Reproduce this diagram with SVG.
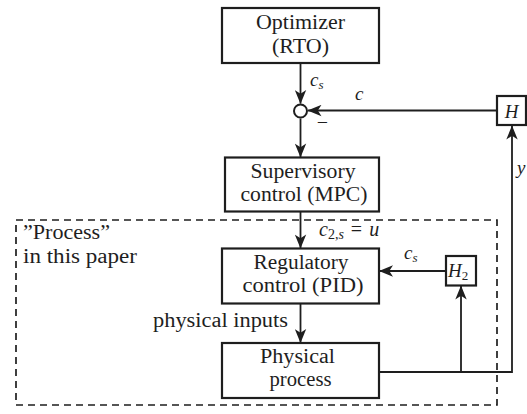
<svg xmlns="http://www.w3.org/2000/svg" width="527" height="414" viewBox="0 0 527 414">
<defs>
<style>
.box{fill:#fff;stroke:#1e1e1e;stroke-width:2.2}
text{font-family:"Liberation Serif","Times New Roman",Tinos,"Noto Serif","DejaVu Serif",FreeSerif,Times,serif;fill:#1e1e1e}
.t{font-size:20px;text-anchor:middle}
.tl{font-size:20px}
.m{font-size:19px;font-style:italic}
.sub{font-size:13px}
.ln{fill:none;stroke:#1e1e1e;stroke-width:1.8}
.arr{marker-end:url(#ah)}
.dash{fill:none;stroke:#1e1e1e;stroke-width:1.7;stroke-dasharray:7 5}
</style>
<marker id="ah" viewBox="0 0 15 12" refX="14" refY="6" markerWidth="15" markerHeight="12" markerUnits="userSpaceOnUse" orient="auto">
<path d="M14.5,6 L0.5,0.3 L4.2,6 L0.5,11.7 z" fill="#1e1e1e"/>
</marker>
</defs>
<rect class="dash" x="16" y="220" width="481" height="185"/>
<g id="connectors">
<line class="ln arr" x1="300.5" y1="63" x2="300.5" y2="103.5"/>
<line class="ln arr" x1="300.5" y1="118.5" x2="300.5" y2="157"/>
<line class="ln arr" x1="300.5" y1="212" x2="300.5" y2="248"/>
<line class="ln arr" x1="300.5" y1="303.5" x2="300.5" y2="342.5"/>
<line class="ln arr" x1="497" y1="110.5" x2="308" y2="110.5"/>
<polyline class="ln arr" points="379,372 512,372 512,126"/>
<line class="ln arr" x1="461" y1="372" x2="461" y2="286"/>
<line class="ln arr" x1="446" y1="271" x2="379.5" y2="271"/>
</g>
<g id="optimizer">
<rect class="box" x="222" y="8" width="157" height="55"/>
<text class="t" x="300.5" y="29" textLength="89" lengthAdjust="spacingAndGlyphs">Optimizer</text>
<text class="t" x="300.5" y="52.5" textLength="57" lengthAdjust="spacingAndGlyphs">(RTO)</text>
</g>
<g id="sum">
<circle cx="300.5" cy="111" r="6.5" fill="#fff" stroke="#1e1e1e" stroke-width="2"/>
<text class="tl" x="322.5" y="129" text-anchor="middle">−</text>
</g>
<g id="supervisory">
<rect class="box" x="225" y="157.5" width="154" height="54"/>
<text class="t" x="303" y="178" textLength="105" lengthAdjust="spacingAndGlyphs">Supervisory</text>
<text class="t" x="304" y="201" textLength="127" lengthAdjust="spacingAndGlyphs">control (MPC)</text>
</g>
<g id="regulatory">
<rect class="box" x="222" y="248.5" width="157" height="55"/>
<text class="t" x="301" y="269" textLength="95" lengthAdjust="spacingAndGlyphs">Regulatory</text>
<text class="t" x="303" y="292" textLength="121" lengthAdjust="spacingAndGlyphs">control (PID)</text>
</g>
<g id="physical">
<rect class="box" x="222" y="343" width="157" height="55"/>
<text class="t" x="297.5" y="363" textLength="75" lengthAdjust="spacingAndGlyphs">Physical</text>
<text class="t" x="300.5" y="386" textLength="62" lengthAdjust="spacingAndGlyphs">process</text>
</g>
<g id="H">
<rect class="box" x="497" y="96" width="29" height="29"/>
<text class="m" x="511.5" y="118" text-anchor="middle">H</text>
</g>
<g id="H2">
<rect class="box" x="446" y="256" width="30" height="29.5"/>
<text class="m" x="448" y="277">H<tspan class="sub" font-style="normal" dy="3">2</tspan></text>
</g>
<g id="labels">
<text class="m" x="310" y="86">c<tspan class="sub" dy="3">s</tspan></text>
<text class="m" x="355" y="100">c</text>
<text class="m" x="517" y="174">y</text>
<text class="m" x="319" y="236" style="font-size:20px">c<tspan style="font-size:14px" font-style="normal" dy="3">2,</tspan><tspan style="font-size:14px">s</tspan><tspan dy="-3" dx="7" font-style="normal">=</tspan><tspan dx="7">u</tspan></text>
<text class="m" x="404" y="259">c<tspan class="sub" dy="3">s</tspan></text>
<text class="tl" x="153" y="327" textLength="135" lengthAdjust="spacingAndGlyphs">physical inputs</text>
<text class="tl" x="23" y="239" textLength="87" lengthAdjust="spacingAndGlyphs">”Process”</text>
<text class="tl" x="23" y="263" textLength="114" lengthAdjust="spacingAndGlyphs">in this paper</text>
</g>
</svg>
